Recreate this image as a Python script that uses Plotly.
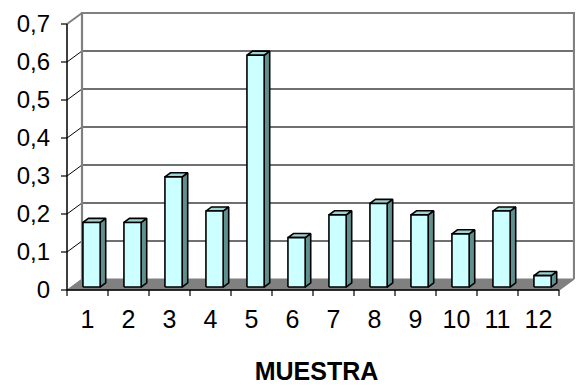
import plotly.graph_objects as go

# Sample numbers and measured values
muestras = ["1", "2", "3", "4", "5", "6", "7", "8", "9", "10", "11", "12"]
valores = [0.17, 0.17, 0.29, 0.20, 0.61, 0.13, 0.19, 0.22, 0.19, 0.14, 0.20, 0.03]
y_ticks = [0.0, 0.1, 0.2, 0.3, 0.4, 0.5, 0.6, 0.7]
y_tick_text = ["0", "0,1", "0,2", "0,3", "0,4", "0,5", "0,6", "0,7"]

# Pseudo-3D projection: depth z in [0, 1] shifts a point up and to the right
PX_PER_CAT = 41.0
PX_PER_UNIT = 380.0
DX = 15.0 / PX_PER_CAT
DY = 11.0 / PX_PER_UNIT
X_LEFT, X_RIGHT = 0.5, len(muestras) + 0.5
Y_TOP = y_ticks[-1]

FRONT = "#CCFFFF"
SIDE = "#5F9090"
TOP = "#A0D2D2"
WALL = "#808080"


def proj(x, y, z):
    return x + z * DX, y + z * DY


def poly(points):
    xs, ys = zip(*[proj(*p) for p in points])
    return list(xs), list(ys)


fig = go.Figure()


def add_line(points, color, width):
    xs, ys = poly(points)
    fig.add_trace(go.Scatter(x=xs, y=ys, mode="lines", hoverinfo="skip",
                             line=dict(color=color, width=width), showlegend=False))


def add_face(points, fill, edge="black", width=1.6):
    xs, ys = poly(points + [points[0]])
    fig.add_trace(go.Scatter(x=xs, y=ys, mode="lines", fill="toself", fillcolor=fill,
                             hoverinfo="skip", line=dict(color=edge, width=width),
                             showlegend=False))


# Floor
add_face([(X_LEFT, 0, 0), (X_RIGHT, 0, 0), (X_RIGHT, 0, 1), (X_LEFT, 0, 1)],
         WALL, edge=WALL, width=1)

# Gridlines: diagonal on the side wall, horizontal on the back wall
for v in y_ticks[1:-1]:
    add_line([(X_LEFT, v, 0), (X_LEFT, v, 1)], "black", 1)
    add_line([(X_LEFT, v, 1), (X_RIGHT, v, 1)], "#404040", 1.3)

# Back wall frame and top edge of the side wall
add_line([(X_LEFT, 0, 1), (X_LEFT, Y_TOP, 1), (X_RIGHT, Y_TOP, 1), (X_RIGHT, 0, 1)], WALL, 2.2)
add_line([(X_LEFT, Y_TOP, 0), (X_LEFT, Y_TOP, 1)], WALL, 2)
add_line([(X_RIGHT, 0, 0), (X_RIGHT, 0, 1)], WALL, 1.5)

# Front axes
add_line([(X_LEFT, Y_TOP, 0), (X_LEFT, 0, 0), (X_RIGHT, 0, 0)], "black", 1.5)
for v in y_ticks:
    add_line([(X_LEFT - 6 / PX_PER_CAT, v, 0), (X_LEFT, v, 0)], "black", 1.2)
for k in range(len(muestras) + 1):
    b = X_LEFT + k
    add_line([(b, 0, 0), (b, -6 / PX_PER_UNIT, 0)], "black", 1.2)

# Bars
HALF_W = 0.21
Z0, Z1 = 0.27, 0.64
for i, v in enumerate(valores, start=1):
    x0, x1 = i - HALF_W, i + HALF_W
    add_face([(x1, 0, Z0), (x1, 0, Z1), (x1, v, Z1), (x1, v, Z0)], SIDE)
    add_face([(x0, v, Z0), (x1, v, Z0), (x1, v, Z1), (x0, v, Z1)], TOP)
    add_face([(x0, 0, Z0), (x1, 0, Z0), (x1, v, Z0), (x0, v, Z0)], FRONT)

# Layout: plot area pixels map categories at 41 px and 0.1 at 38 px
L, R, T, B = 58, 1, 12, 90
W, H = 576, 388
x0_range = X_LEFT - (67 - L) / PX_PER_CAT
x1_range = x0_range + (W - L - R) / PX_PER_CAT
y0_range = -8 / PX_PER_UNIT
y1_range = y0_range + (H - T - B) / PX_PER_UNIT

fig.update_layout(
    width=W, height=H,
    margin=dict(l=L, r=R, t=T, b=B),
    paper_bgcolor="white", plot_bgcolor="white",
    font=dict(family="Liberation Sans, Arial, sans-serif", size=24, color="black"),
    xaxis=dict(range=[x0_range, x1_range], showgrid=False, zeroline=False, showline=False,
               tickvals=list(range(1, len(muestras) + 1)), ticktext=muestras,
               tickfont=dict(size=25),
               ticks="", ticklabelstandoff=4, automargin=False, fixedrange=True,
               title=dict(text="<b>MUESTRA</b>", font=dict(size=25), standoff=30)),
    yaxis=dict(range=[y0_range, y1_range], showgrid=False, zeroline=False, showline=False,
               tickvals=y_ticks, ticktext=y_tick_text, ticks="", ticklabelstandoff=7,
               tickfont=dict(size=24), automargin=False, fixedrange=True),
    showlegend=False,
)

fig.write_html("out.html")
